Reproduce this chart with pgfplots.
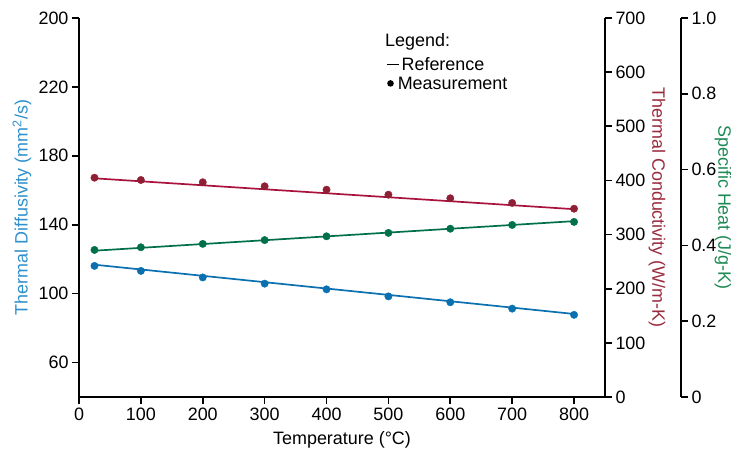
\documentclass[border=0pt]{standalone}
\usepackage{fontspec}
\setmainfont{Liberation Sans}
\usepackage{pgfplots}
\pgfplotsset{compat=1.18}
\definecolor{cblue}{HTML}{0A70B0}
\definecolor{cbluelab}{HTML}{2E90CC}
\definecolor{credpt}{HTML}{8E1F35}
\definecolor{credln}{HTML}{A8123C}
\definecolor{credlab}{HTML}{9A2B3D}
\definecolor{cgreen}{HTML}{00704A}
\definecolor{cgreenlab}{HTML}{1E8A55}
\begin{document}
\begin{tikzpicture}
\pgfplotsset{
  every axis/.append style={
    scale only axis, height=379bp,
    font=\fontsize{18}{21}\selectfont,
    /pgf/number format/assume math mode=true,
    tick align=outside, major tick length=7bp,
    axis line style={line width=1.6bp, black},
    every tick/.style={line width=1.6bp, black},
    xmin=0,
    clip=false,
  },
  every tick label/.append style={font=\fontsize{18}{21}\selectfont},
}
% main axis: thermal diffusivity
\begin{axis}[
  at={(0,0)}, anchor=south west,
  width=526bp, xmax=850,
  ymin=40, ymax=260,
  axis x line*=bottom, axis y line*=left,
  xtick={0,100,...,800},
  ytick={60,100,140,180,220,260},
  yticklabels={60,100,140,180,220,200},
  xlabel={Temperature (\textdegree C)},
  every axis x label/.style={at={(rel axis cs:0.5,0)}, anchor=center, yshift=-43bp},
  ylabel={Thermal Diffusivity (mm\textsuperscript{2}/s)},
  every axis y label/.style={at={(rel axis cs:0,0.5)}, xshift=-57bp, rotate=90, anchor=center, color=cbluelab},
]
\addplot[cblue, line width=1.7bp] coordinates {(25,116.8) (800,88.2)};
\addplot[cblue, only marks, mark=*, mark size=3.7bp] coordinates {
 (25,116.1) (100,113.2) (200,109.4) (300,105.8) (400,102.5)
 (500,98.4) (600,95.0) (700,91.3) (800,87.7)};
\end{axis}
% thermal conductivity
\begin{axis}[
  at={(0,0)}, anchor=south west,
  width=526bp, xmax=850,
  ymin=0, ymax=700,
  hide x axis, axis y line*=right,
  ytick={0,100,...,700},
  ylabel={Thermal Conductivity (W/m-K)},
  every axis y label/.style={at={(rel axis cs:1,0.5)}, xshift=52bp, rotate=-90, anchor=center, color=credlab},
]
\addplot[credln, line width=1.7bp] coordinates {(25,403.9) (800,346.9)};
\addplot[credpt, only marks, mark=*, mark size=3.7bp] coordinates {
 (25,405.0) (100,400.8) (200,396.6) (300,389.2) (400,382.9)
 (500,373.7) (600,367.1) (700,358.4) (800,347.8)};
\end{axis}
% specific heat
\begin{axis}[
  at={(0,0)}, anchor=south west,
  width=602bp, xmax=972.81,
  ymin=0, ymax=1,
  hide x axis, axis y line*=right,
  ytick={0,0.2,...,1.0},
  yticklabels={0,0.2,0.4,0.6,0.8,1.0},
  ylabel={Specific Heat (J/g-K)},
  every axis y label/.style={at={(rel axis cs:1,0.5)}, xshift=42bp, rotate=-90, anchor=center, color=cgreenlab},
]
\addplot[cgreen, line width=1.7bp] coordinates {(25,0.386) (800,0.464)};
\addplot[cgreen, only marks, mark=*, mark size=3.7bp] coordinates {
 (25,0.388) (100,0.395) (200,0.404) (300,0.414) (400,0.424)
 (500,0.433) (600,0.444) (700,0.454) (800,0.462)};
\end{axis}
% legend
\begin{scope}[font=\fontsize{18}{21}\selectfont]
\node[anchor=west, inner sep=0pt] at (306bp,355bp) {Legend:};
\node[anchor=west, inner sep=0pt] at (307bp,333bp) {\tikz[baseline=-0.6ex]\draw[line width=1.4bp] (0,0)--(12bp,0);\hspace{2bp}Reference};
\node[anchor=west, inner sep=0pt] at (308bp,314bp) {\tikz[baseline=-0.6ex]\fill (0,0) circle (3.3bp);\hspace{4bp}Measurement};
\end{scope}
\pgfresetboundingbox
\useasboundingbox (-79bp,-58bp) rectangle (652bp,379bp+18bp);
\end{tikzpicture}
\end{document}
